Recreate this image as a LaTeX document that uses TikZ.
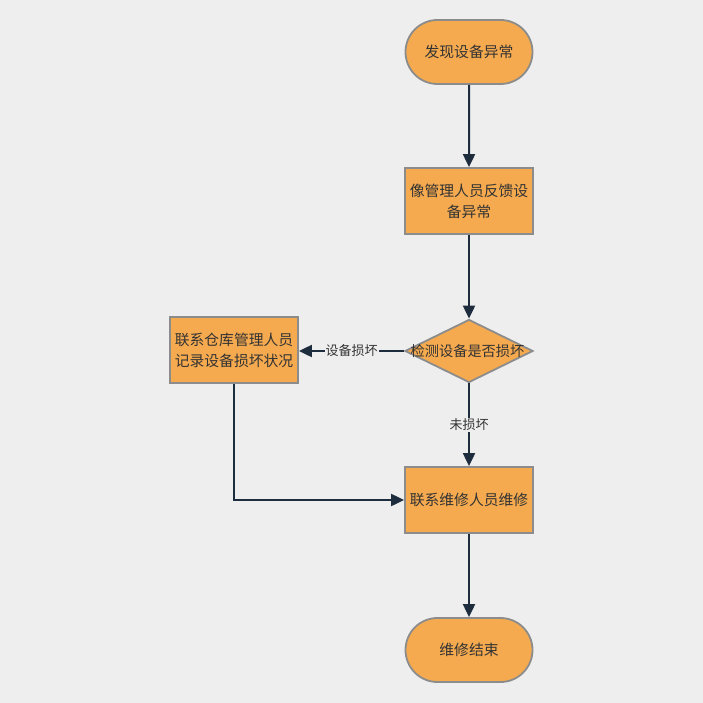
\documentclass[tikz,border=0pt]{standalone}
\usepackage{fontspec}
\setmainfont{Noto Sans CJK SC}
\usetikzlibrary{shapes.geometric,shapes.misc,arrows.meta}
\definecolor{bg}{HTML}{EEEEEE}
\definecolor{nodefill}{HTML}{F5AA4F}
\definecolor{nodeline}{HTML}{8C8C8C}
\definecolor{edge}{HTML}{1E2D3E}
\definecolor{txt}{HTML}{333333}
\tikzset{
  x=1pt,y=-1pt,
  base/.style={fill=nodefill,draw=nodeline,line width=1.8pt,text=txt,font=\fontsize{14.8}{21}\selectfont,align=center,inner sep=0pt},
  term/.style={base,rounded rectangle,minimum width=127pt,minimum height=64pt},
  proc/.style={base,rectangle,minimum width=128pt,minimum height=66pt},
  dec/.style={base,diamond,minimum width=128pt,minimum height=63pt,font=\fontsize{14.2}{18}\selectfont},
  conn/.style={draw=edge,line width=2pt,-{Triangle[length=13pt,width=12pt]}},
  lbl/.style={fill=bg,text=txt,font=\fontsize{13}{16}\selectfont,inner sep=1pt}
}
\begin{document}
\begin{tikzpicture}
\fill[bg] (0,0) rectangle (703,703);
\useasboundingbox (0,0) rectangle (703,703);
\node[term] (start) at (469,52) {发现设备异常};
\node[proc] (fb) at (469,201) {像管理人员反馈设\\备异常};
\node[dec] (chk) at (469,351) {\makebox[0pt]{\hspace*{-3pt}检测设备是否损坏}};
\node[proc] (rec) at (234,350) {联系仓库管理人员\\记录设备损坏状况};
\node[proc] (fix) at (469,500) {联系维修人员维修};
\node[term] (end) at (469,650) {维修结束};
\draw[conn] (start) -- (fb);
\draw[conn] (fb) -- (chk);
\draw[conn] (chk.west) -- node[lbl] {设备损坏} (rec.east |- chk.west);
\draw[conn] (chk) -- node[lbl,pos=0.5] {未损坏} (fix);
\draw[conn] (rec.south) |- (fix.west);
\draw[conn] (fix) -- (end);
\end{tikzpicture}
\end{document}
